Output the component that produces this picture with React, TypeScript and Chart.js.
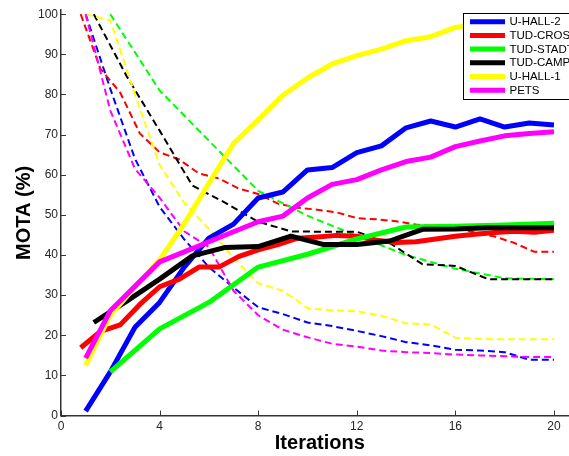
import React, { useEffect, useRef } from "react";
import { Chart, registerables } from "chart.js";

Chart.register(...registerables);

// ---------- data ----------
const X_TICKS = [0, 4, 8, 12, 16, 20];
const Y_TICKS = [0, 10, 20, 30, 40, 50, 60, 70, 80, 90, 100];

const SERIES_NAMES = ["U-HALL-2", "TUD-CROSSING", "TUD-STADTMITTE", "TUD-CAMPUS", "U-HALL-1", "PETS"];
const SERIES_COLORS = ["#0000ff", "#ff0000", "#00ff00", "#000000", "#ffff00", "#ff00ff"];

// iteration positions of each series
const X_U_HALL_2 = [1, 2, 3, 4, 5, 6, 7, 8, 9, 10, 11, 12, 13, 14, 15, 16, 17, 18, 19, 20];
const X_TUD_CROSSING = [0.8, 1.6, 2.4, 3.2, 4.0, 4.8, 5.6, 6.4, 7.2, 8.0, 8.8, 9.6, 10.4, 11.2, 12.0, 12.8, 13.6, 14.4, 15.2, 16.0, 16.8, 17.6, 18.4, 19.2, 20.0];
const X_TUD_STADTMITTE = [2, 4, 6, 8, 10, 12, 14, 16, 18, 20];
const X_TUD_CAMPUS = [1.33, 2.67, 4.0, 5.33, 6.67, 8.0, 9.33, 10.67, 12.0, 13.33, 14.67, 16.0, 17.33, 18.67, 20.0];
const X_U_HALL_1 = [1, 2, 3, 4, 5, 6, 7, 8, 9, 10, 11, 12, 13, 14, 15, 16, 17, 18, 19, 20];
const X_PETS = [1, 2, 3, 4, 5, 6, 7, 8, 9, 10, 11, 12, 13, 14, 15, 16, 17, 18, 19, 20];

// solid curves (MOTA %)
const U_HALL_2_SOLID = [1.1, 10.9, 22, 28.2, 37, 44.2, 47.7, 54.2, 55.7, 61.2, 61.8, 65.5, 67.2, 71.7, 73.4, 71.9, 73.9, 71.9, 72.9, 72.4];
const TUD_CROSSING_SOLID = [16.9, 21, 22.6, 27.7, 32.1, 34, 37, 37, 39.6, 41.3, 42.6, 44.2, 44.5, 44.9, 44.7, 43.7, 43.1, 43.3, 44, 44.7, 45.2, 45.6, 45.9, 45.7, 46.2];
const TUD_STADTMITTE_SOLID = [10.9, 21.6, 28.2, 37, 40.2, 44, 47, 47.2, 47.5, 47.9];
const TUD_CAMPUS_SOLID = [23.2, 28.5, 34, 39.8, 41.9, 42.1, 44.7, 42.6, 42.6, 43.5, 46.4, 46.5, 46.8, 46.8, 46.8];
const U_HALL_1_SOLID = [12.5, 25, 32, 38.8, 47.8, 57.9, 67.8, 73.7, 79.8, 84.1, 87.6, 89.7, 91.3, 93.4, 94.4, 96.7, 97.6, 98.5, 99, 99.5];
const PETS_SOLID = [14.3, 26.1, 32.2, 38.3, 40.8, 43.3, 45.8, 48.3, 49.7, 54.2, 57.6, 58.8, 61.2, 63.3, 64.4, 67, 68.4, 69.7, 70.3, 70.7];

// dashed curves (MOTA %)
const U_HALL_2_DASHED = [100, 81.4, 64, 52, 43.9, 37, 31.9, 27, 25.3, 23.2, 22.3, 21.1, 19.8, 18.3, 17.5, 16.4, 16.2, 15.8, 13.9, 13.9];
const TUD_CROSSING_DASHED = [100, 86.4, 80.5, 70.3, 65.6, 63.8, 60.3, 59.1, 56.6, 55.2, 52.8, 51.8, 51.3, 50.6, 49.2, 48.9, 48.4, 47.6, 47.2, 46.8, 45.6, 44.6, 43, 40.8, 40.8];
const TUD_STADTMITTE_DASHED = [100, 81, 68.5, 56, 49.8, 44.8, 40, 36.6, 34.2, 34];
const TUD_CAMPUS_DASHED = [100, 84.5, 71, 57.3, 53, 48.3, 45.9, 45.8, 45.8, 43, 37.7, 37.3, 34, 34, 34];
const U_HALL_1_DASHED = [100, 98.5, 80, 62.5, 53, 46.5, 39.3, 33, 31.1, 26.8, 26.2, 26, 24.9, 23, 22.7, 19.4, 19.1, 19, 19, 19];
const PETS_DASHED = [100, 76, 61.5, 54.3, 45.9, 42, 31.1, 25, 21.4, 19.5, 17.9, 17.2, 16.2, 15.8, 15.6, 15.2, 15, 14.8, 14.6, 14.6];

const SERIES_X = [X_U_HALL_2, X_TUD_CROSSING, X_TUD_STADTMITTE, X_TUD_CAMPUS, X_U_HALL_1, X_PETS];
const SERIES_SOLID = [U_HALL_2_SOLID, TUD_CROSSING_SOLID, TUD_STADTMITTE_SOLID, TUD_CAMPUS_SOLID, U_HALL_1_SOLID, PETS_SOLID];
const SERIES_DASHED = [U_HALL_2_DASHED, TUD_CROSSING_DASHED, TUD_STADTMITTE_DASHED, TUD_CAMPUS_DASHED, U_HALL_1_DASHED, PETS_DASHED];

// ---------- styles ----------
const FONT = "'Liberation Sans', Arial, Helvetica, sans-serif";
const AXIS_COLOR = "#333333";
const TICK_COLOR = "#262626";

const overlayPlugin = {
  id: "overlay",
  afterDatasetsDraw(chart: any) {
    const ctx = chart.ctx as CanvasRenderingContext2D;
    const { left, bottom } = chart.chartArea;
    const xs = chart.scales.x;
    const ys = chart.scales.y;
    ctx.save();
    // inward tick marks
    ctx.strokeStyle = AXIS_COLOR;
    ctx.lineWidth = 1;
    ctx.beginPath();
    for (const v of X_TICKS) {
      const px = Math.round(xs.getPixelForValue(v)) + 0.5;
      ctx.moveTo(px, bottom);
      ctx.lineTo(px, bottom - 5);
    }
    for (const v of Y_TICKS) {
      const py = Math.round(ys.getPixelForValue(v)) + 0.5;
      ctx.moveTo(left, py);
      ctx.lineTo(left + 5, py);
    }
    ctx.stroke();

    // legend box (drawn over the curves)
    const bx = 463.5, by = 13.5, bw = 130, bh = 86;
    ctx.fillStyle = "#ffffff";
    ctx.fillRect(bx, by, bw, bh);
    ctx.strokeStyle = "#000000";
    ctx.lineWidth = 1;
    ctx.strokeRect(bx, by, bw, bh);
    ctx.font = `11.5px ${FONT}`;
    ctx.textBaseline = "middle";
    ctx.textAlign = "left";
    SERIES_NAMES.forEach((name, i) => {
      const y = 21.7 + i * 13.7;
      ctx.strokeStyle = SERIES_COLORS[i];
      ctx.lineWidth = 5;
      ctx.beginPath();
      ctx.moveTo(470, y);
      ctx.lineTo(505, y);
      ctx.stroke();
      ctx.fillStyle = "#000000";
      ctx.fillText(name, 509.5, y + 0.5);
    });
    ctx.restore();
  },
};

export default function App() {
  const canvasRef = useRef<HTMLCanvasElement | null>(null);

  useEffect(() => {
    if (!canvasRef.current) return;
    const datasets: any[] = [];
    SERIES_NAMES.forEach((name, i) => {
      datasets.push({
        label: name,
        data: SERIES_X[i].map((x, j) => ({ x, y: SERIES_SOLID[i][j] })),
        borderColor: SERIES_COLORS[i],
        backgroundColor: SERIES_COLORS[i],
        borderWidth: 5,
        pointRadius: 0,
        tension: 0,
        fill: false,
        borderJoinStyle: "round",
        order: 5 - i,
      });
      datasets.push({
        label: name + " (dashed)",
        data: SERIES_X[i].map((x, j) => ({ x, y: SERIES_DASHED[i][j] })),
        borderColor: SERIES_COLORS[i],
        backgroundColor: SERIES_COLORS[i],
        borderWidth: 2,
        borderDash: [7, 4],
        pointRadius: 0,
        tension: 0,
        fill: false,
        order: 15 - i,
      });
    });

    const chart = new Chart(canvasRef.current, {
      type: "line",
      data: { datasets },
      plugins: [overlayPlugin],
      options: {
        animation: false,
        responsive: false,
        maintainAspectRatio: false,
        layout: { padding: { top: 7.6, right: 1.4, bottom: 0, left: 0 } },
        plugins: {
          legend: { display: false },
          tooltip: { enabled: false },
        },
        scales: {
          x: {
            type: "linear",
            min: 0,
            max: 21,
            afterBuildTicks: (s: any) => {
              s.ticks = X_TICKS.map((v) => ({ value: v }));
            },
            afterFit: (s: any) => {
              s.height = 40.4;
            },
            grid: { display: false, drawTicks: false },
            border: { display: true, color: AXIS_COLOR, width: 1.5 },
            ticks: {
              autoSkip: false,
              maxRotation: 0,
              padding: 3.5,
              color: TICK_COLOR,
              font: { family: FONT, size: 12 },
            },
            title: {
              display: true,
              text: "Iterations",
              color: "#000000",
              font: { family: FONT, size: 20, weight: "bold" },
              padding: { top: 0, bottom: 1 },
            },
          },
          y: {
            type: "linear",
            min: 0,
            max: 101,
            afterBuildTicks: (s: any) => {
              s.ticks = Y_TICKS.map((v) => ({ value: v }));
            },
            afterFit: (s: any) => {
              s.width = 61;
            },
            grid: { display: false, drawTicks: false },
            border: { display: true, color: AXIS_COLOR, width: 1.5 },
            ticks: {
              autoSkip: false,
              padding: 3,
              color: TICK_COLOR,
              font: { family: FONT, size: 12 },
            },
            title: {
              display: true,
              text: "MOTA (%)",
              color: "#000000",
              font: { family: FONT, size: 20, weight: "bold" },
              padding: { top: 12.5, bottom: 0 },
            },
          },
        },
      } as any,
    });
    return () => chart.destroy();
  }, []);

  return (
    <div style={{ position: "fixed", left: 0, top: 0, width: 569, height: 456, overflow: "hidden", background: "#ffffff" }}>
      <canvas ref={canvasRef} width={580} height={456} style={{ display: "block", width: 580, height: 456 }} />
    </div>
  );
}
